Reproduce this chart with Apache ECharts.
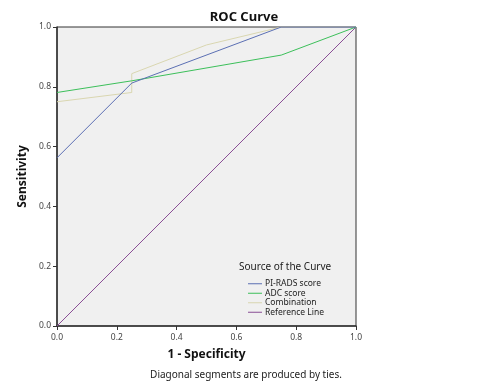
<!DOCTYPE html>
<html>
<head>
<meta charset="utf-8">
<script src="https://cdn.jsdelivr.net/npm/echarts@6/dist/echarts.min.js"></script>
<style>
  html, body { margin: 0; padding: 0; background: #fff; }
  #chart { width: 488px; height: 390px; }
</style>
</head>
<body>
<div id="chart"></div>
<script>
// ROC curve points, [1 - specificity, sensitivity]
const piRads = [[0, 0.5625], [0.25, 0.8125], [0.75, 1], [1, 1]];
const adcScore = [[0, 0.781], [0.25, 0.82], [0.75, 0.906], [1, 1]];
const combination = [[0, 0.75], [0.25, 0.781], [0.25, 0.844], [0.5, 0.94], [0.75, 1], [1, 1]];
const referenceLine = [[0, 0], [1, 1]];

const seriesNames = ['PI-RADS score', 'ADC score', 'Combination', 'Reference Line'];
const seriesColors = ['#5b6fb3', '#3cbf5a', '#d9d6b0', '#8a4f96'];

const font = 'Noto Sans';
const chart = echarts.init(document.getElementById('chart'));

const makeLine = (name, data, color) => ({
  name,
  type: 'line',
  data,
  showSymbol: false,
  symbol: 'none',
  animation: false,
  lineStyle: { color, width: 1 },
  itemStyle: { color },
});

const axisCommon = {
  type: 'value',
  min: 0,
  max: 1,
  interval: 0.2,
  axisLine: { show: true, lineStyle: { color: '#333', width: 1.5 } },
  axisTick: { show: true, inside: false, length: 4, lineStyle: { color: '#333' } },
  splitLine: { show: false },
  axisLabel: {
    fontFamily: font,
    fontSize: 8.5,
    color: '#444',
    formatter: v => v.toFixed(1),
  },
};

chart.setOption({
  backgroundColor: '#fff',
  title: [
    {
      text: 'ROC Curve',
      left: 244,
      top: 11,
      padding: 0,
      textAlign: 'center',
      textStyle: { fontFamily: font, fontSize: 13, fontWeight: 'bold', color: '#111' },
    },
    {
      text: 'Source of the Curve',
      left: 239,
      top: 262,
      padding: 0,
      textStyle: { fontFamily: font, fontSize: 10, fontWeight: 'normal', color: '#222' },
    },
    {
      text: 'Diagonal segments are produced by ties.',
      left: 246,
      top: 370,
      padding: 0,
      textAlign: 'center',
      textStyle: { fontFamily: font, fontSize: 10, fontWeight: 'normal', color: '#222' },
    },
  ],
  legend: {
    orient: 'vertical',
    left: 248,
    top: 279,
    padding: 0,
    itemGap: 0,
    itemWidth: 14,
    itemHeight: 1,
    icon: 'rect',
    data: seriesNames,
    textStyle: { fontFamily: font, fontSize: 8.5, color: '#222', lineHeight: 9.5, padding: [0, 0, 0, -2] },
  },
  grid: {
    left: 57,
    top: 27,
    width: 299,
    height: 299,
    show: true,
    backgroundColor: '#f0f0f0',
    borderColor: '#333',
    borderWidth: 1,
  },
  xAxis: {
    ...axisCommon,
    name: '1 - Specificity',
    nameLocation: 'middle',
    nameGap: 23,
    nameTextStyle: { fontFamily: font, fontSize: 12, fontWeight: 'bold', color: '#111' },
    axisLabel: { ...axisCommon.axisLabel, margin: 7 },
  },
  yAxis: {
    ...axisCommon,
    name: 'Sensitivity',
    nameLocation: 'middle',
    nameGap: 25,
    nameTextStyle: { fontFamily: font, fontSize: 12, fontWeight: 'bold', color: '#111' },
    axisLabel: { ...axisCommon.axisLabel, margin: 6 },
  },
  series: [
    makeLine(seriesNames[3], referenceLine, seriesColors[3]),
    makeLine(seriesNames[2], combination, seriesColors[2]),
    makeLine(seriesNames[1], adcScore, seriesColors[1]),
    makeLine(seriesNames[0], piRads, seriesColors[0]),
  ],
});
</script>
</body>
</html>
